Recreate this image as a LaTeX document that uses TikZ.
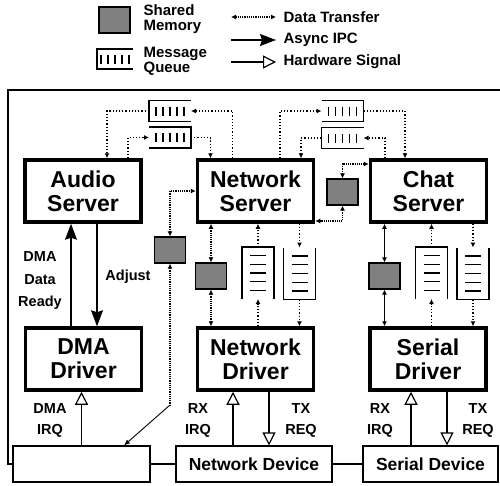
\documentclass[tikz,border=0pt]{standalone}
\usepackage{fontspec}
\setmainfont{Liberation Sans}
\usetikzlibrary{arrows.meta}
\definecolor{memgray}{RGB}{128,128,128}
\begin{document}
\begin{tikzpicture}[x=1pt,y=-1pt,line width=1.2pt,
  font=\bfseries,
  server/.style={draw,line width=3.5pt,minimum width=116pt,minimum height=62pt,
    align=center,inner sep=0pt,font=\bfseries\fontsize{23}{24}\selectfont},
  device/.style={draw,minimum height=36pt,inner sep=0pt,
    font=\bfseries\fontsize{17.5}{20}\selectfont},
  shmem/.style={draw,fill=memgray,minimum width=31pt,minimum height=26pt,inner sep=0pt},
  hqueue/.style={minimum width=42pt,minimum height=21pt,inner sep=0pt,outer sep=0pt},
  vqueue/.style={minimum width=32pt,minimum height=52pt,inner sep=0pt,outer sep=0pt},
  lbl/.style={align=center,inner sep=0pt,font=\bfseries\fontsize{14.5}{21}\selectfont},
  legtext/.style={align=left,anchor=west,inner sep=0pt,font=\bfseries\fontsize{15}{15}\selectfont},
  msg/.style={dotted,-{Latex[length=5pt,width=5pt]}},
  data/.style={densely dotted,{Latex[length=5pt,width=5pt]}-{Latex[length=5pt,width=5pt]}},
  datas/.style={{Latex[length=5pt,width=5pt]}-{Latex[length=5pt,width=5pt]}},
  async/.style={-{Stealth[length=16pt,width=12pt,inset=2pt]}},
  hwsig/.style={-{Triangle[open,length=13pt,width=13pt]}}]
\useasboundingbox (0,0) rectangle (500,485);

% legend
\node [shmem,minimum width=31pt] (lmem) at (114.5,20) {};
\node [legtext] (lmemtext) at (143,19.5) {Shared\\Memory};
\node [hqueue,minimum width=36pt,minimum height=20pt] (lq) at (115,59) {};
\node [legtext] (lqtext) at (143,61) {Message\\Queue};
\node [legtext] (ldata) at (283,17) {Data Transfer};
\node [legtext] (lasync) at (283,40) {Async IPC};
\node [legtext] (lhw) at (283,62) {Hardware Signal};
\draw [data] ([xshift=-52pt]ldata.west) -- ([xshift=-7pt]ldata.west);
\draw [async] ([xshift=-52pt]lasync.west) -- ([xshift=-7pt]lasync.west);
\draw [hwsig] ([xshift=-52pt]lhw.west) -- ([xshift=-7pt]lhw.west);

% servers and drivers
\node [server] (audio) at (83,191) {Audio\\Server};
\node [server] (netsrv) at (255.5,191) {Network\\Server};
\node [server] (chat) at (428.5,191) {Chat\\Server};
\node [server] (dma) at (83.5,359) {DMA\\Driver};
\node [server] (netdrv) at (255.5,359) {Network\\Driver};
\node [server] (serdrv) at (428,359) {Serial\\Driver};

% devices
\node [device,minimum width=137pt] (blank) at (81.5,464) {};
\node [device,minimum width=156pt] (netdev) at (254,464) {Network Device};
\node [device,minimum width=135pt] (serdev) at (430.5,464) {Serial Device};
\draw (blank) -- (netdev);
\draw (netdev) -- (serdev);
\coordinate (frameend) at (500,90);
\coordinate (framecorner) at (8,90);
\draw (frameend) -- (framecorner) |- (blank.west);

% message queues
\node [hqueue] (q1) at (170,111) {};
\node [hqueue] (q2) at (170,137.5) {};
\node [hqueue] (q3) at (342.5,111) {};
\node [hqueue] (q4) at (342.5,138) {};
\node [vqueue] (q5) at (258,273) {};
\node [vqueue] (q6) at (299.5,273.5) {};
\node [vqueue] (q7) at (431.5,273) {};
\node [vqueue] (q8) at (473,273.5) {};
\foreach \q/\a/\b/\c/\d in {lq/north east/north west/south west/south east,
    q1/north east/north west/south west/south east,
    q2/north west/north east/south east/south west,
    q3/north west/north east/south east/south west,
    q4/north east/north west/south west/south east} {
  \draw (\q.\a) -- (\q.\b) -- (\q.\c) -- (\q.\d);
  \foreach \dx in {-14,-7,0,7,14}
    \draw [line width=1.4pt] ([xshift=\dx pt,yshift=4.5pt]\q.center) -- ([xshift=\dx pt,yshift=-4.5pt]\q.center);
}
\foreach \q/\a/\b/\c/\d in {q5/south west/north west/north east/south east,
    q6/north west/south west/south east/north east,
    q7/south west/north west/north east/south east,
    q8/north west/south west/south east/north east} {
  \draw (\q.\a) -- (\q.\b) -- (\q.\c) -- (\q.\d);
  \foreach \dy in {-17.5,-8.75,0,8.75,17.5}
    \draw ([xshift=-8pt,yshift=\dy pt]\q.center) -- ([xshift=8pt,yshift=\dy pt]\q.center);
}

% shared memory
\node [shmem] (m1) at (342.5,192) {};
\node [shmem] (m2) at (170,250) {};
\node [shmem] (m3) at (211,276) {};
\node [shmem] (m4) at (384.5,276) {};

% queue traffic
\draw [msg] ([xshift=-23pt]netsrv.north) |- (q1.east);
\draw [msg] (q1.west) -| ([xshift=24pt]audio.north);
\draw [msg] ([xshift=45pt]audio.north) |- (q2.west);
\draw [msg] (q2.east) -| ([xshift=-45pt]netsrv.north);
\draw [msg] ([xshift=24.5pt]netsrv.north) |- (q3.west);
\draw [msg] (q3.east) -| ([xshift=-23.5pt]chat.north);
\draw [msg] ([xshift=-43.5pt]chat.north) |- (q4.east);
\draw [msg] (q4.west) -| ([xshift=45.5pt]netsrv.north);
\draw [msg] (netdrv.north -| q5.south) -- (q5.south);
\draw [msg] (q5.north) -- (q5.north |- netsrv.south);
\draw [msg] (netsrv.south -| q6.north) -- (q6.north);
\draw [msg] (q6.south) -- (q6.south |- netdrv.north);
\draw [msg] (serdrv.north -| q7.south) -- (q7.south);
\draw [msg] (q7.north) -- (q7.north |- chat.south);
\draw [msg] (chat.south -| q8.north) -- (q8.north);
\draw [msg] (q8.south) -- (q8.south |- serdrv.north);

% data transfer
\draw [data] (m1.north) |- ([yshift=27pt]chat.west);
\draw [data] (m1.south) |- ([yshift=-30pt]netsrv.east);
\draw [data] (m2.north) |- (netsrv.west);
\coordinate (m2bend) at (170,405);
\draw [densely dotted,{Latex[length=5pt,width=5pt]}-] (m2.south) -- (m2bend);
\draw [line width=0.9pt,-{Latex[length=6pt,width=5pt]}] (m2bend) -- ([xshift=42.5pt]blank.north);
\draw [data] (netsrv.south -| m3.north) -- (m3.north);
\draw [data] (m3.south) -- (m3.south |- netdrv.north);
\draw [datas] (chat.south -| m4.north) -- (m4.north);
\draw [datas] (m4.south) -- (m4.south |- serdrv.north);

% async ipc
\draw [async] ([xshift=14pt]audio.south) -- ([xshift=14pt]audio.south |- dma.north);
\draw [async] ([xshift=-12.5pt]dma.north) -- ([xshift=-12.5pt]dma.north |- audio.south);
\node [lbl] (adjust) at (128,277) {Adjust};
\node [lbl,font=\bfseries\fontsize{14.5}{22.5}\selectfont] (ready) at (40,281) {DMA\\Data\\Ready};

% hardware signals
\draw [hwsig] (blank.north) -- (blank.north |- dma.south);
\draw [hwsig] ([xshift=-21pt]netdev.north) -- ([xshift=-21pt]netdev.north |- netdrv.south);
\draw [hwsig] ([xshift=13.5pt]netdrv.south) -- ([xshift=13.5pt]netdrv.south |- netdev.north);
\draw [hwsig] ([xshift=-19.5pt]serdev.north) -- ([xshift=-19.5pt]serdev.north |- serdrv.south);
\draw [hwsig] ([xshift=19pt]serdrv.south) -- ([xshift=19pt]serdrv.south |- serdev.north);
\node [lbl] (dmairq) at (50,420.5) {DMA\\IRQ};
\node [lbl] (netrx) at (198,420.5) {RX\\IRQ};
\node [lbl] (nettx) at (301,420.5) {TX\\REQ};
\node [lbl] (serrx) at (380,420.5) {RX\\IRQ};
\node [lbl] (sertx) at (478,420.5) {TX\\REQ};
\end{tikzpicture}
\end{document}
